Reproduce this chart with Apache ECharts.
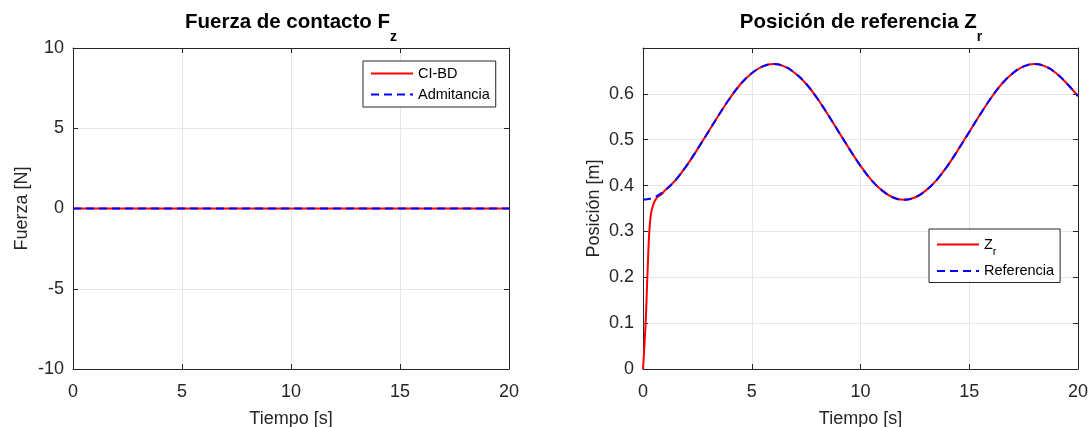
<!DOCTYPE html>
<html>
<head>
<meta charset="utf-8">
<script src="https://cdn.jsdelivr.net/npm/echarts@6/dist/echarts.min.js"></script>
<style>
  html, body { margin: 0; padding: 0; background: #fff; }
  #chart { width: 1091px; height: 427px; }
</style>
</head>
<body>
<div id="chart"></div>
<script>
// Contact force (both controllers stay at zero)
const fzTime = [0, 5, 10, 15, 20];
const fzCIBD = [0, 0, 0, 0, 0];
const fzAdmitancia = [0, 0, 0, 0, 0];

// Reference position
const refTime = [0, 0.5, 1, 1.5, 2, 2.5, 3, 3.5, 4, 4.5, 5, 5.5, 6, 6.5, 7, 7.5, 8, 8.5, 9, 9.5, 10,
  10.5, 11, 11.5, 12, 12.5, 13, 13.5, 14, 14.5, 15, 15.5, 16, 16.5, 17, 17.5, 18, 18.5, 19, 19.5, 20];
const refPos = [0.369, 0.374, 0.389, 0.412, 0.443, 0.479, 0.517, 0.555, 0.591, 0.622, 0.645, 0.660, 0.665,
  0.660, 0.645, 0.622, 0.591, 0.555, 0.517, 0.479, 0.443, 0.412, 0.389, 0.374, 0.369, 0.374, 0.389,
  0.412, 0.443, 0.479, 0.517, 0.555, 0.591, 0.622, 0.645, 0.660, 0.665, 0.660, 0.645, 0.622, 0.595];

// Z_r: fast rise from 0, then follows the reference
const zrTime = [0, 0.03, 0.12, 0.2, 0.29, 0.37, 0.44, 0.5, 0.6, 0.7, 0.85, 1, 1.5, 2, 2.5, 3, 3.5, 4, 4.5,
  5, 5.5, 6, 6.5, 7, 7.5, 8, 8.5, 9, 9.5, 10, 10.5, 11, 11.5, 12, 12.5, 13, 13.5, 14, 14.5, 15, 15.5,
  16, 16.5, 17, 17.5, 18, 18.5, 19, 19.5, 20];
const zrPos = [0, 0, 0.1, 0.2, 0.3, 0.34, 0.353, 0.362, 0.371, 0.376, 0.381, 0.389, 0.412, 0.443, 0.479,
  0.517, 0.555, 0.591, 0.622, 0.645, 0.660, 0.665, 0.660, 0.645, 0.622, 0.591, 0.555, 0.517, 0.479,
  0.443, 0.412, 0.389, 0.374, 0.369, 0.374, 0.389, 0.412, 0.443, 0.479, 0.517, 0.555, 0.591, 0.622,
  0.645, 0.660, 0.665, 0.660, 0.645, 0.622, 0.595];

// Axis ticks
const timeTicks = { min: 0, max: 20, interval: 5 };
const forceTicks = { min: -10, max: 10, interval: 5 };
const posTicks = { min: 0, max: 0.7, interval: 0.1 };

const pairs = (xs, ys) => xs.map((x, i) => [x, ys[i]]);

const FONT = "'Liberation Sans', Arial, Helvetica, sans-serif";
const INK = '#262626';

function mainAxis(kind, ticks, extra) {
  return Object.assign({
    type: 'value',
    min: ticks.min, max: ticks.max, interval: ticks.interval,
    axisLine: { show: true, onZero: false, lineStyle: { color: INK, width: 1 } },
    axisTick: { show: true, inside: true, length: 5, lineStyle: { color: INK } },
    axisLabel: { show: true, fontFamily: FONT, fontSize: 18, color: INK, margin: kind === 'x' ? 14 : 9 },
    splitLine: { show: true, lineStyle: { color: '#e6e6e6', width: 1 } },
    nameLocation: 'middle',
    nameTextStyle: { fontFamily: FONT, fontSize: 18, color: INK }
  }, extra);
}

function boxAxis(ticks, gridIndex, position) {
  return {
    type: 'value', gridIndex, position,
    min: ticks.min, max: ticks.max, interval: ticks.interval,
    axisLine: { show: true, onZero: false, lineStyle: { color: INK, width: 1 } },
    axisTick: { show: true, inside: true, length: 5, lineStyle: { color: INK } },
    axisLabel: { show: false },
    splitLine: { show: false }
  };
}

// Bold title with a subscript lowered under the main text
function titleText(x, main, sub) {
  return {
    type: 'text', x, y: 22,
    style: {
      text: '{m|' + main + '}{s|' + sub + '}',
      align: 'center', verticalAlign: 'middle',
      rich: {
        m: { fontFamily: FONT, fontSize: 20.5, fontWeight: 'bold', fill: '#000', lineHeight: 44, verticalAlign: 'middle' },
        s: { fontFamily: FONT, fontSize: 14, fontWeight: 'bold', fill: '#000', lineHeight: 16, verticalAlign: 'bottom' }
      }
    }
  };
}

const legendBase = {
  orient: 'vertical',
  selectedMode: false,
  itemWidth: 42,
  itemHeight: 14,
  backgroundColor: '#fff',
  borderColor: INK,
  borderWidth: 1,
  borderRadius: 0,
  itemStyle: { opacity: 0 },
  textStyle: { fontFamily: FONT, fontSize: 14.5, color: '#000' }
};

const DASH = [8, 5];

const chart = echarts.init(document.getElementById('chart'), null, { renderer: 'canvas' });

chart.setOption({
  backgroundColor: '#fff',
  animation: false,
  graphic: [
    titleText(291, 'Fuerza de contacto F', 'z'),
    titleText(861, 'Posición de referencia Z', 'r')
  ],
  grid: [
    { left: 73, top: 48, width: 436, height: 321, outerBoundsMode: 'none', containLabel: false },
    { left: 643, top: 48, width: 435, height: 321, outerBoundsMode: 'none', containLabel: false }
  ],
  xAxis: [
    mainAxis('x', timeTicks, { gridIndex: 0, position: 'bottom', name: 'Tiempo [s]', nameGap: 41 }),
    boxAxis(timeTicks, 0, 'top'),
    mainAxis('x', timeTicks, { gridIndex: 1, position: 'bottom', name: 'Tiempo [s]', nameGap: 41 }),
    boxAxis(timeTicks, 1, 'top')
  ],
  yAxis: [
    mainAxis('y', forceTicks, { gridIndex: 0, position: 'left', name: 'Fuerza [N]', nameGap: 42 }),
    boxAxis(forceTicks, 0, 'right'),
    mainAxis('y', posTicks, {
      gridIndex: 1, position: 'left', name: 'Posición [m]', nameGap: 40,
      axisLabel: { show: true, fontFamily: FONT, fontSize: 18, color: INK, margin: 9, showMaxLabel: false }
    }),
    boxAxis(posTicks, 1, 'right')
  ],
  legend: [
    Object.assign({}, legendBase, {
      data: ['CI-BD', 'Admitancia'],
      left: 363, top: 61,
      itemGap: 6,
      padding: [5, 6, 5, 7]
    }),
    Object.assign({}, legendBase, {
      data: ['Zr', 'Referencia'],
      left: 929, top: 229,
      itemGap: 6,
      padding: [8, 6, 4, 7],
      formatter: (name) => name === 'Zr' ? '{n|Z}{s|r}' : name,
      textStyle: {
        fontFamily: FONT, fontSize: 14.5, color: '#000',
        rich: {
          n: { fontFamily: FONT, fontSize: 14.5, color: '#000', lineHeight: 26, verticalAlign: 'middle' },
          s: { fontFamily: FONT, fontSize: 11, color: '#000', lineHeight: 14, verticalAlign: 'bottom' }
        }
      }
    })
  ],
  series: [
    {
      name: 'CI-BD', type: 'line', xAxisIndex: 0, yAxisIndex: 0,
      data: pairs(fzTime, fzCIBD), showSymbol: false, symbol: 'none',
      lineStyle: { color: '#ff0000', width: 2 }, itemStyle: { color: '#ff0000' }
    },
    {
      name: 'Admitancia', type: 'line', xAxisIndex: 0, yAxisIndex: 0,
      data: pairs(fzTime, fzAdmitancia), showSymbol: false, symbol: 'none',
      lineStyle: { color: '#0000ff', width: 2, type: DASH }, itemStyle: { color: '#0000ff' }
    },
    {
      name: 'Zr', type: 'line', xAxisIndex: 2, yAxisIndex: 2,
      data: pairs(zrTime, zrPos), showSymbol: false, symbol: 'none',
      smooth: 0.4,
      lineStyle: { color: '#ff0000', width: 2 }, itemStyle: { color: '#ff0000' }
    },
    {
      name: 'Referencia', type: 'line', xAxisIndex: 2, yAxisIndex: 2,
      data: pairs(refTime, refPos), showSymbol: false, symbol: 'none',
      smooth: 0.4,
      lineStyle: { color: '#0000ff', width: 2, type: DASH }, itemStyle: { color: '#0000ff' }
    }
  ]
});
</script>
</body>
</html>
